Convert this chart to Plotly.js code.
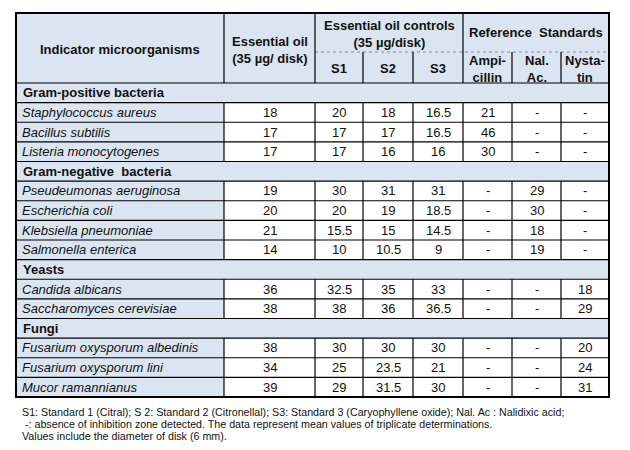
<!DOCTYPE html>
<html>
<head>
<meta charset="utf-8">
<script src="https://cdn.plot.ly/plotly-3.0.1.min.js"></script>
<style>html,body{margin:0;padding:0;background:#fff;}#chart{width:630px;height:450px;}</style>
</head>
<body>
<div id="chart"></div>
<script>
// ---------- data ----------
const groups = ["Gram-positive bacteria", "Gram-negative  bacteria", "Yeasts", "Fungi"];
const organisms = [
  ["Staphylococcus aureus", "Bacillus subtilis", "Listeria monocytogenes"],
  ["Pseudeumonas aeruginosa", "Escherichia coli", "Klebsiella pneumoniae", "Salmonella enterica"],
  ["Candida albicans", "Saccharomyces cerevisiae"],
  ["Fusarium oxysporum albedinis", "Fusarium oxysporum lini", "Mucor ramannianus"]
];
const essentialOil = [18, 17, 17, 19, 20, 21, 14, 36, 38, 38, 34, 39];
const s1 = [20, 17, 17, 30, 20, 15.5, 10, 32.5, 38, 30, 25, 29];
const s2 = [18, 17, 16, 31, 19, 15, 10.5, 35, 36, 30, 23.5, 31.5];
const s3 = [16.5, 16.5, 16, 31, 18.5, 14.5, 9, 33, 36.5, 30, 21, 30];
const ampicillin = [21, 46, 30, null, null, null, null, null, null, null, null, null];
const nalAc = [null, null, null, 29, 30, 18, 19, null, null, null, null, null];
const nystatin = [null, null, null, null, null, null, null, 18, 29, 20, 24, 31];
const headerFirst = "Indicator microorganisms";
const headerOil = "Essential oil<br>(35 µg/ disk)";
const headerControls = "Essential oil controls<br>(35 µg/disk)";
const headerRef = "Reference  Standards";
const subHeaders = ["S1", "S2", "S3", "Ampi-<br>cillin", "Nal.<br>Ac.", "Nysta-<br>tin"];
const footnotes = [
  "S1: Standard 1 (Citral); S 2: Standard 2 (Citronellal); S3: Standard 3 (Caryophyllene oxide); Nal. Ac : Nalidixic acid;",
  " -: absence of inhibition zone detected. The data represent mean values of triplicate determinations.",
  "Values include the diameter of disk (6 mm)."
];

(function () {
// ---------- layout geometry ----------
const colEdges = [16, 224, 315, 363, 413, 463, 512, 561, 609];
const tTop = 13, midHeader = 52, headerBottom = 83, rowH = 19.625;
const blue = "#dbe5f1";
const txt = "#111";
const fontFam = "Liberation Sans, Arial, sans-serif";
const valueCols = [essentialOil, s1, s2, s3, ampicillin, nalAc, nystatin];

const shapes = [];
const ann = [];
function rect(x0, y0, x1, y1, fill) {
  shapes.push({type: "rect", xref: "x", yref: "y", x0, y0, x1, y1, fillcolor: fill, line: {width: 0}, layer: "below"});
}
function line(x0, y0, x1, y1, w, dash, color) {
  shapes.push({type: "line", xref: "x", yref: "y", x0, y0, x1, y1, line: {color: color || "#000", width: w || 1, dash: dash || "solid"}});
}
function text(t, x, y, opts) {
  opts = opts || {};
  ann.push({xref: "x", yref: "y", x, y, text: t, showarrow: false,
    xanchor: opts.xanchor || "center", yanchor: "middle", align: opts.align || "center",
    font: {family: fontFam, size: opts.size || 13, color: txt, weight: opts.weight || "normal", style: opts.style || "normal"}});
}
const cx = i => (colEdges[i] + colEdges[i + 1]) / 2;
const L = colEdges[0], R = colEdges[colEdges.length - 1];

// header
rect(L, tTop, R, headerBottom, blue);
text(headerFirst, cx(0), (tTop + headerBottom) / 2 + 1, {weight: "bold"});
text(headerOil, cx(1), (tTop + headerBottom) / 2 + 2, {weight: "bold"});
text(headerControls, (colEdges[2] + colEdges[5]) / 2, (tTop + midHeader) / 2 + 1, {weight: "bold"});
text(headerRef, (colEdges[5] + colEdges[8]) / 2, (tTop + midHeader) / 2, {weight: "bold"});
subHeaders.forEach((s, k) => text(s, cx(k + 2), (midHeader + headerBottom) / 2 + 1, {weight: "bold"}));
line(colEdges[2], midHeader, R, midHeader, 1, "dot", "#8a8a8a");
[1, 2, 5].forEach(i => line(colEdges[i], tTop, colEdges[i], headerBottom, 1.2));
[3, 4, 6, 7].forEach(i => line(colEdges[i], midHeader, colEdges[i], headerBottom, 1.2));

// body
let r = 0, dataIdx = 0;
groups.forEach((g, gi) => {
  const y0 = headerBottom + r * rowH;
  rect(L, y0, R, y0 + rowH, blue);
  text(g, 21, y0 + rowH / 2, {xanchor: "left", align: "left", weight: "bold"});
  line(L, y0, R, y0, 1.2);
  r++;
  organisms[gi].forEach(o => {
    const ya = headerBottom + r * rowH, yb = ya + rowH;
    rect(L, ya, colEdges[1], yb, blue);
    text(o, 20, (ya + yb) / 2, {xanchor: "left", align: "left", style: "italic"});
    valueCols.forEach((col, k) => {
      const v = col[dataIdx];
      text(v === null ? "-" : String(v), cx(k + 1), (ya + yb) / 2);
    });
    line(L, ya, R, ya, 1.2);
    for (let i = 1; i < colEdges.length - 1; i++) line(colEdges[i], ya, colEdges[i], yb, 1.2);
    r++; dataIdx++;
  });
});
const bottom = headerBottom + r * rowH;
// outer border
shapes.push({type: "rect", xref: "x", yref: "y", x0: L, y0: tTop, x1: R, y1: bottom, line: {color: "#000", width: 2}, fillcolor: "rgba(0,0,0,0)"});

// footnotes
const footY = [412, 424, 436];
footnotes.forEach((f, i) => text(f.replace(/^ /, "&nbsp;"), 20, footY[i], {xanchor: "left", align: "left", size: 10.7}));

Plotly.newPlot("chart", [{type: "scatter", x: [], y: [], hoverinfo: "skip", showlegend: false}], {
  width: 630, height: 450, margin: {l: 0, r: 0, t: 0, b: 0},
  paper_bgcolor: "#fff", plot_bgcolor: "#fff",
  xaxis: {range: [0, 630], visible: false, fixedrange: true},
  yaxis: {range: [450, 0], visible: false, fixedrange: true},
  shapes: shapes, annotations: ann, showlegend: false
}, {displayModeBar: false, staticPlot: true});
})();
</script>
</body>
</html>
